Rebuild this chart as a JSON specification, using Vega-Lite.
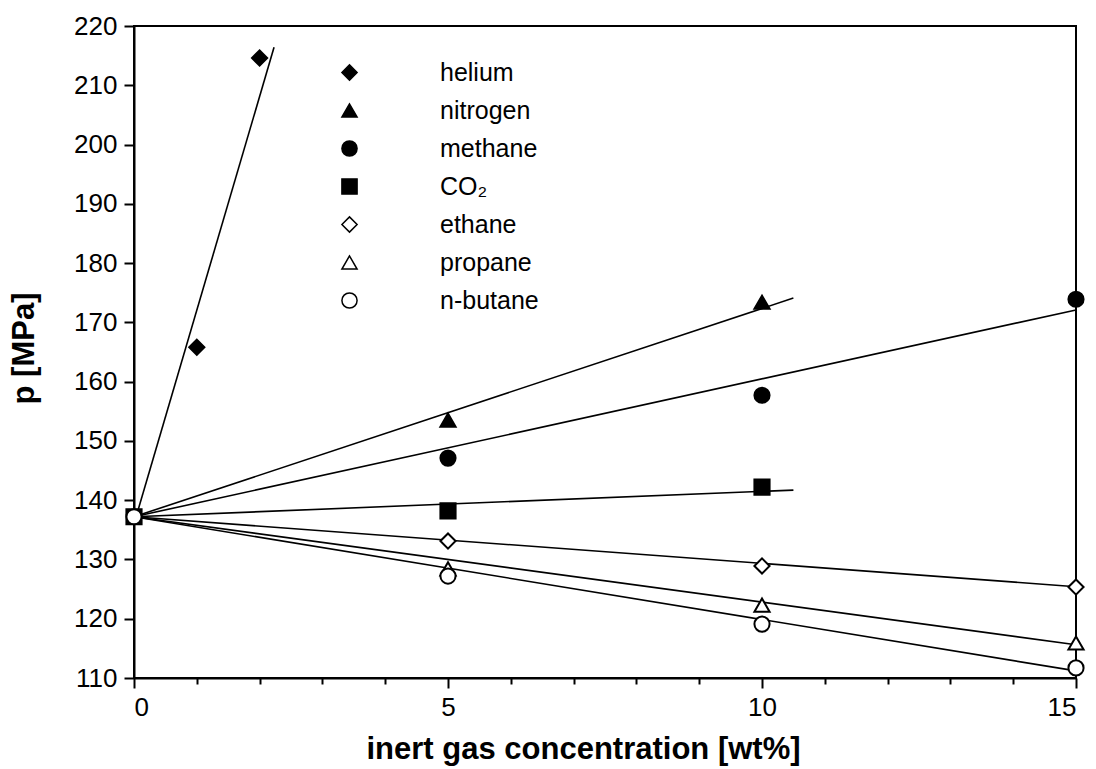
{
  "$schema": "https://vega.github.io/schema/vega-lite/v6.json",
  "width": 942,
  "height": 652,
  "autosize": {"type": "none"},
  "padding": {"left": 134, "top": 26, "right": 20, "bottom": 91},
  "background": "white",
  "config": {
    "font": "Liberation Sans",
    "view": {"stroke": "black", "strokeWidth": 2},
    "axis": {
      "grid": false,
      "domainColor": "black",
      "domainWidth": 2,
      "tickColor": "black",
      "tickWidth": 2,
      "labelColor": "black",
      "labelFont": "Liberation Sans",
      "labelFontSize": 26,
      "titleColor": "black",
      "titleFont": "Liberation Sans",
      "titleFontSize": 31,
      "titleFontWeight": "bold"
    },
    "legend": {
      "orient": "none",
      "legendX": 203,
      "legendY": 34,
      "padding": 0,
      "labelFont": "Liberation Sans",
      "labelFontSize": 25,
      "labelColor": "black",
      "labelOffset": 78,
      "rowPadding": 12
    }
  },
  "datasets": {
    "points": [
      {"gas": "helium", "c": 1, "p": 165.8},
      {"gas": "helium", "c": 2, "p": 214.6},
      {"gas": "nitrogen", "c": 5, "p": 153.5},
      {"gas": "nitrogen", "c": 10, "p": 173.4},
      {"gas": "methane", "c": 5, "p": 147.1},
      {"gas": "methane", "c": 10, "p": 157.7},
      {"gas": "methane", "c": 15, "p": 173.9},
      {"gas": "CO₂", "c": 0, "p": 137.2},
      {"gas": "CO₂", "c": 5, "p": 138.2},
      {"gas": "CO₂", "c": 10, "p": 142.2},
      {"gas": "ethane", "c": 5, "p": 133.1},
      {"gas": "ethane", "c": 10, "p": 128.9},
      {"gas": "ethane", "c": 15, "p": 125.35},
      {"gas": "propane", "c": 5, "p": 128.4},
      {"gas": "propane", "c": 10, "p": 122.3},
      {"gas": "propane", "c": 15, "p": 115.9},
      {"gas": "n-butane", "c": 5, "p": 127.2},
      {"gas": "n-butane", "c": 10, "p": 119.1},
      {"gas": "n-butane", "c": 15, "p": 111.7},
      {"gas": "n-butane", "c": 0, "p": 137.2}
    ],
    "fits": [
      {"gas": "helium", "c": 0, "p": 136.0},
      {"gas": "helium", "c": 2.23, "p": 216.4},
      {"gas": "nitrogen", "c": 0, "p": 137.2},
      {"gas": "nitrogen", "c": 10.5, "p": 174.1},
      {"gas": "methane", "c": 0, "p": 137.2},
      {"gas": "methane", "c": 15, "p": 172.1},
      {"gas": "CO₂", "c": 0, "p": 137.2},
      {"gas": "CO₂", "c": 10.5, "p": 141.7},
      {"gas": "ethane", "c": 0, "p": 137.2},
      {"gas": "ethane", "c": 15, "p": 125.4},
      {"gas": "propane", "c": 0, "p": 137.2},
      {"gas": "propane", "c": 15, "p": 115.6},
      {"gas": "n-butane", "c": 0, "p": 137.2},
      {"gas": "n-butane", "c": 15, "p": 111.2}
    ]
  },
  "layer": [
    {
      "data": {"name": "fits"},
      "mark": {"type": "line", "color": "black", "strokeWidth": 1.6},
      "encoding": {
        "x": {
          "field": "c",
          "type": "quantitative",
          "scale": {"domain": [0, 15], "nice": false, "zero": false},
          "axis": {
            "orient": "bottom",
            "values": [1, 2, 3, 4, 6, 7, 8, 9, 11, 12, 13, 14],
            "labels": false,
            "domain": false,
            "tickSize": 6,
            "title": null
          }
        },
        "y": {
          "field": "p",
          "type": "quantitative",
          "scale": {"domain": [110, 220], "nice": false, "zero": false},
          "axis": {
            "values": [110, 120, 130, 140, 150, 160, 170, 180, 190, 200, 210, 220],
            "tickSize": 10,
            "labelPadding": 7,
            "title": "p [MPa]",
            "titleAngle": -90,
            "titleAlign": "center",
            "titleBaseline": "alphabetic",
            "titleX": -101,
            "titleY": 322
          }
        },
        "detail": {"field": "gas"}
      }
    },
    {
      "data": {"name": "points"},
      "mark": {"type": "point", "filled": true, "stroke": "black", "strokeWidth": 2, "opacity": 1},
      "encoding": {
        "x": {
          "field": "c",
          "type": "quantitative",
          "scale": {"domain": [0, 15], "nice": false, "zero": false},
          "axis": {
            "orient": "bottom",
            "values": [0, 5, 10, 15],
            "tickSize": 10,
            "labelPadding": 6,
            "title": "inert gas concentration [wt%]",
            "titleAlign": "center",
            "titleBaseline": "alphabetic",
            "titleX": 449,
            "titleY": 80
          }
        },
        "y": {
          "field": "p",
          "type": "quantitative",
          "scale": {"domain": [110, 220], "nice": false, "zero": false}
        },
        "shape": {
          "field": "gas",
          "type": "nominal",
          "scale": {
            "domain": ["helium", "nitrogen", "methane", "CO₂", "ethane", "propane", "n-butane"],
            "range": ["diamond", "triangle-up", "circle", "square", "diamond", "triangle-up", "circle"]
          },
          "legend": {
            "title": null,
            "encode": {
              "symbols": {
                "update": {
                  "stroke": {"value": "black"},
                  "strokeWidth": {"value": 2},
                  "opacity": {"value": 1}
                }
              }
            }
          }
        },
        "fill": {
          "field": "gas",
          "type": "nominal",
          "scale": {
            "domain": ["helium", "nitrogen", "methane", "CO₂", "ethane", "propane", "n-butane"],
            "range": ["black", "black", "black", "black", "white", "white", "white"]
          },
          "legend": {"title": null}
        },
        "size": {
          "field": "gas",
          "type": "nominal",
          "scale": {
            "domain": ["helium", "nitrogen", "methane", "CO₂", "ethane", "propane", "n-butane"],
            "range": [230, 230, 180, 120, 150, 180, 150]
          },
          "legend": {"title": null}
        },
        "order": {"value": 0}
      }
    }
  ],
  "resolve": {"axis": {"x": "independent"}}
}
